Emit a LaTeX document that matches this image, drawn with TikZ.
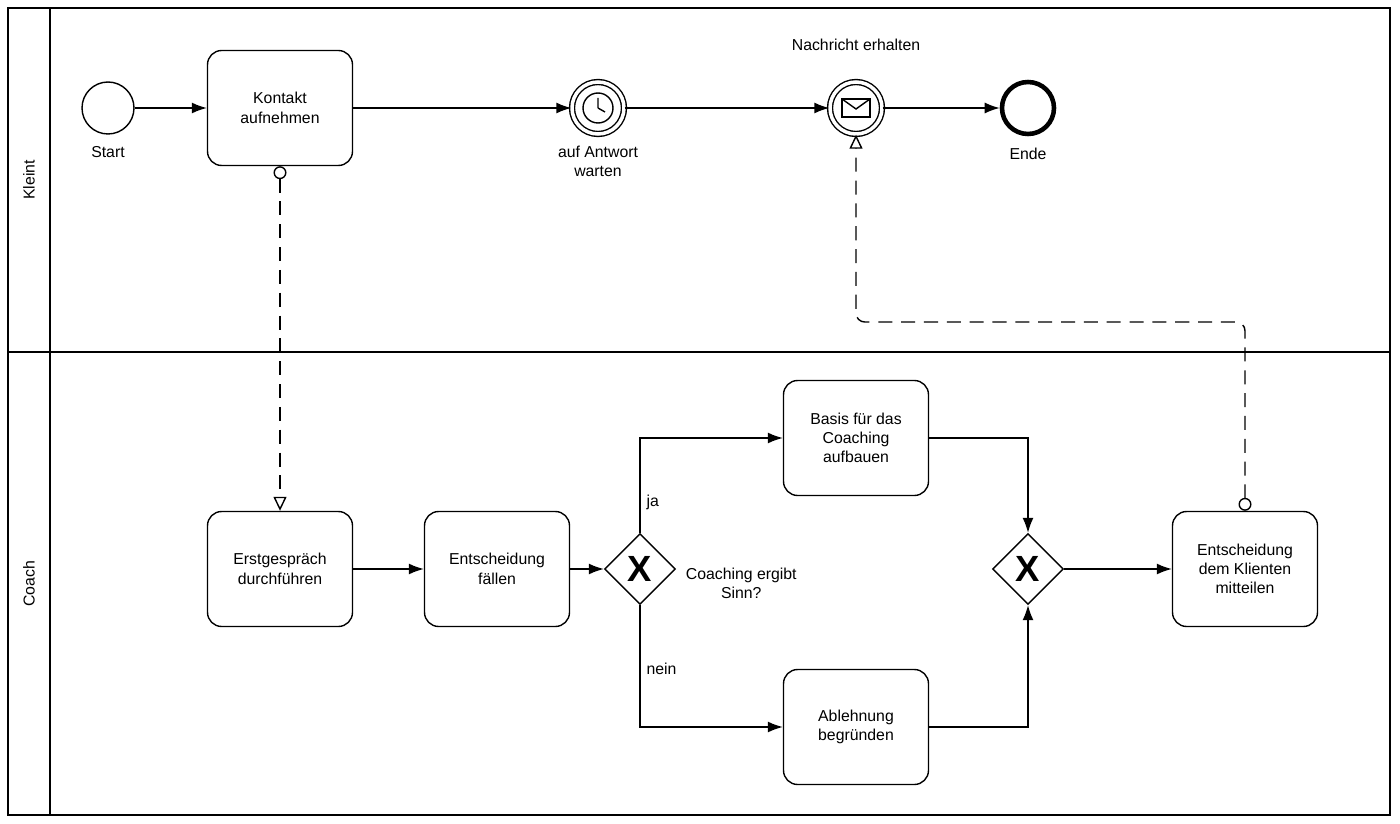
\documentclass[tikz,border=0pt]{standalone}
\usepackage{fontspec}
\setmainfont{Liberation Sans}
\usetikzlibrary{arrows.meta,shapes.geometric,positioning}
\tikzset{
  task/.style={draw,thick,rounded corners=8pt,minimum width=2.9cm,minimum height=2.3cm,align=center,font=\small},
  evt/.style={draw,thick,circle,minimum size=1.04cm,inner sep=0pt},
  gate/.style={draw,thick,diamond,minimum size=1.42cm,inner sep=0pt,font=\huge\bfseries},
  flow/.style={thick,-{Latex[length=3mm,width=2.2mm]}},
  msg/.style={thick,dashed,dash pattern=on 8pt off 5pt,{Circle[open,length=2.6mm,fill=white]}-{Triangle[open,length=2.8mm,width=2.6mm,fill=white]},rounded corners=5pt},
  lbl/.style={font=\small,align=center}
}
\begin{document}
\begin{tikzpicture}[x=0.02cm,y=-0.02cm]
   \useasboundingbox (0,0) rectangle (1400,824);
   % pool and lanes
   \draw[thick] (8,8) rectangle (1390,815);
   \draw[thick] (50,8) -- (50,815);
   \draw[thick] (8,352) -- (1390,352);
   \node[rotate=90,lbl] at (29,180) {Kleint};
   \node[rotate=90,lbl] at (29,584) {Coach};
   % client lane
   \node[evt] (start) at (108,108) {};
   \node[below=3pt of start,lbl] {Start};
   \node[task] (kontakt) at (280,108) {Kontakt\\aufnehmen};
   \node[evt,double,double distance=2pt] (timer) at (598,108) {};
   \draw[thick] (timer) circle (0.3cm);
   \draw[thick] (timer.center) -- ++(0,-10) (timer.center) -- ++(7,4);
   \node[below=3pt of timer,lbl] {auf Antwort\\warten};
   \node[evt,double,double distance=2pt] (nachricht) at (856,108) {};
   \draw[thick,fill=white] (842,99) rectangle (870,117);
   \draw[thick] (842,99) -- (856,109) -- (870,99);
   \node[above=14pt of nachricht,lbl] {Nachricht erhalten};
   \node[evt,line width=2.6pt] (ende) at (1028,108) {};
   \node[below=3pt of ende,lbl] {Ende};
   % coach lane
   \node[task] (erst) at (280,569) {Erstgespräch\\durchführen};
   \node[task] (entsch) at (497,569) {Entscheidung\\fällen};
   \node[gate] (g1) at (640,569) {X};
   \node[right=2pt of g1,lbl,yshift=-8pt] {Coaching ergibt\\Sinn?};
   \node[task] (basis) at (856,438) {Basis für das\\Coaching\\aufbauen};
   \node[task] (ablehn) at (856,727) {Ablehnung\\begründen};
   \node[gate] (g2) at (1028,569) {X};
   \node[task] (mitteil) at (1245,569) {Entscheidung\\dem Klienten\\mitteilen};
   % sequence flows
   \draw[flow] (start) -- (kontakt);
   \draw[flow] (kontakt) -- (timer);
   \draw[flow] (timer) -- (nachricht);
   \draw[flow] (nachricht) -- (ende);
   \draw[flow] (erst) -- (entsch);
   \draw[flow] (entsch) -- (g1);
   \draw[flow] (g1.north) |- (basis.west) node[pos=0.16,right,lbl] {ja};
   \draw[flow] (g1.south) |- (ablehn.west) node[pos=0.26,right,lbl] {nein};
   \draw[flow] (basis.east) -| (g2.north);
   \draw[flow] (ablehn.east) -| (g2.south);
   \draw[flow] (g2) -- (mitteil);
   % message flows
   \draw[msg] (kontakt.south) -- (erst.north);
   \draw[msg] (mitteil.north) |- (856,322) -- (nachricht.south);
\end{tikzpicture}
\end{document}
